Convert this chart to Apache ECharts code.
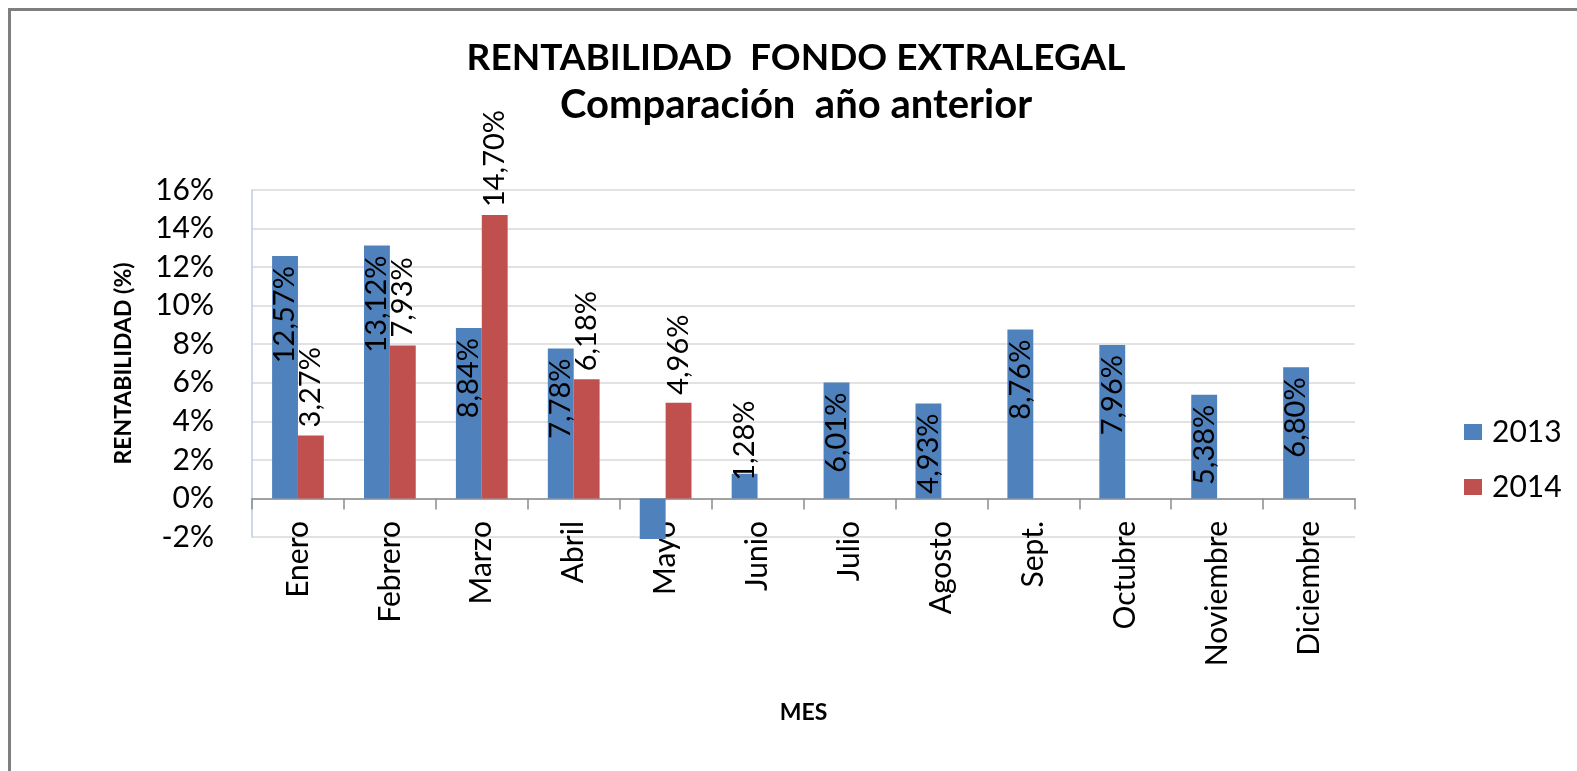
<!DOCTYPE html>
<html>
<head>
<meta charset="utf-8">
<script src="https://cdn.jsdelivr.net/npm/echarts@6/dist/echarts.min.js"></script>
<style>
	html, body { margin: 0; padding: 0; background: #fff; }
	#chart { width: 1577px; height: 771px; }
</style>
</head>
<body>
<div id="chart"></div>
<script>
// 데이터
const months = ['Enero', 'Febrero', 'Marzo', 'Abril', 'Mayo', 'Junio', 'Julio', 'Agosto', 'Sept.', 'Octubre', 'Noviembre', 'Diciembre'];
const data2013 = [12.57, 13.12, 8.84, 7.78, -2.1, 1.28, 6.01, 4.93, 8.76, 7.96, 5.38, 6.80];
const data2014 = [3.27, 7.93, 14.70, 6.18, 4.96, null, null, null, null, null, null, null];
const yTicks = { min: -2, max: 16, step: 2 };

const FONT = 'Lato';

//라벨 포맷 (12,57%)
function pctLabel(v) {
	return v.toFixed(2).replace('.', ',') + '%';
}

//2013 : 막대 안쪽 끝, 짧은 막대는 위쪽
function build2013(list) {
	return list.map((v) => {
		if (v < 0) {
			return { value: v, label: { show: false } };
		}
		if (v < 3) {
			return { value: v, label: { position: 'top', align: 'left', distance: -7 } };
		}
		return { value: v };
	});
}

function drawChart() {
	var myChart = echarts.init(document.getElementById('chart'));

	var option = {
		animation: false,
		backgroundColor: '#ffffff',
		textStyle: { fontFamily: FONT },
		graphic: [
			{
				type: 'rect',
				shape: { x: 9.5, y: 9.5, width: 1620, height: 820 },
				style: { fill: 'none', stroke: '#7f7f7f', lineWidth: 3 }
			}
		],
		title: {
			text: '{a|RENTABILIDAD  FONDO EXTRALEGAL}\n{b|Comparación  año anterior}',
			left: 796,
			top: 35,
			padding: 0,
			textAlign: 'center',
			textStyle: {
				fontFamily: FONT,
				fontWeight: 'bold',
				color: '#000',
				rich: {
					a: { fontFamily: FONT, fontSize: 37, fontWeight: 'bold', color: '#000', lineHeight: 47 },
					b: { fontFamily: FONT, fontSize: 40, fontWeight: 'bold', color: '#000', lineHeight: 47 }
				}
			}
		},
		legend: {
			orient: 'vertical',
			left: 1459,
			top: 412,
			itemWidth: 18,
			itemHeight: 16,
			itemGap: 25,
			icon: 'rect',
			textStyle: { fontFamily: FONT, fontSize: 30, color: '#000', lineHeight: 30, padding: [0, 0, 0, 5] },
			data: ['2013', '2014']
		},
		grid: {
			left: 252,
			right: 222,
			top: 190,
			bottom: 234
		},
		xAxis: [
			{
				type: 'category',
				data: months,
				position: 'bottom',
				axisLine: { show: false, onZero: false },
				axisTick: { show: false },
				axisLabel: {
					interval: 0,
					rotate: 90,
					margin: -16,
					fontFamily: FONT,
					fontSize: 30,
					color: '#000'
				},
				name: 'MES',
				nameLocation: 'middle',
				nameGap: 164,
				nameTextStyle: { fontFamily: FONT, fontSize: 23, fontWeight: 'bold', color: '#000' }
			},
			{
				//0% 기준선 + 눈금
				type: 'category',
				data: months,
				position: 'bottom',
				axisLine: { show: true, onZero: true, lineStyle: { color: '#8c8c8c', width: 1.5 } },
				axisTick: { show: true, length: 11, lineStyle: { color: '#8c8c8c', width: 1.5 } },
				axisLabel: { show: false },
				splitLine: { show: false }
			}
		],
		yAxis: {
			type: 'value',
			min: yTicks.min,
			max: yTicks.max,
			interval: yTicks.step,
			axisLine: { show: true, lineStyle: { color: '#b9cde5', width: 1.5 } },
			axisTick: { show: false },
			axisLabel: {
				formatter: '{value}%',
				margin: 38,
				fontFamily: FONT,
				fontSize: 30,
				color: '#000'
			},
			splitLine: { lineStyle: { color: '#d9d9d9', width: 1.5 } },
			name: 'RENTABILIDAD (%)',
			nameLocation: 'middle',
			nameRotate: 90,
			nameGap: 117,
			nameTextStyle: { fontFamily: FONT, fontSize: 23, fontWeight: 'bold', color: '#000' }
		},
		series: [
			{
				name: '2013',
				type: 'bar',
				xAxisIndex: 0,
				clip: false,
				barGap: '0%',
				barCategoryGap: '43.7%',
				itemStyle: { color: '#4f81bd' },
				label: {
					show: true,
					position: 'insideTop',
					rotate: 90,
					align: 'right',
					verticalAlign: 'middle',
					distance: 10,
					fontFamily: FONT,
					fontSize: 29,
					color: '#000',
					formatter: (p) => pctLabel(p.value)
				},
				data: build2013(data2013)
			},
			{
				name: '2014',
				type: 'bar',
				xAxisIndex: 0,
				itemStyle: { color: '#c0504d' },
				label: {
					show: true,
					position: 'top',
					rotate: 90,
					align: 'left',
					verticalAlign: 'middle',
					distance: 8,
					fontFamily: FONT,
					fontSize: 29,
					color: '#000',
					formatter: (p) => pctLabel(p.value)
				},
				data: data2014
			}
		]
	};

	myChart.setOption(option);
}

drawChart();
</script>
</body>
</html>
